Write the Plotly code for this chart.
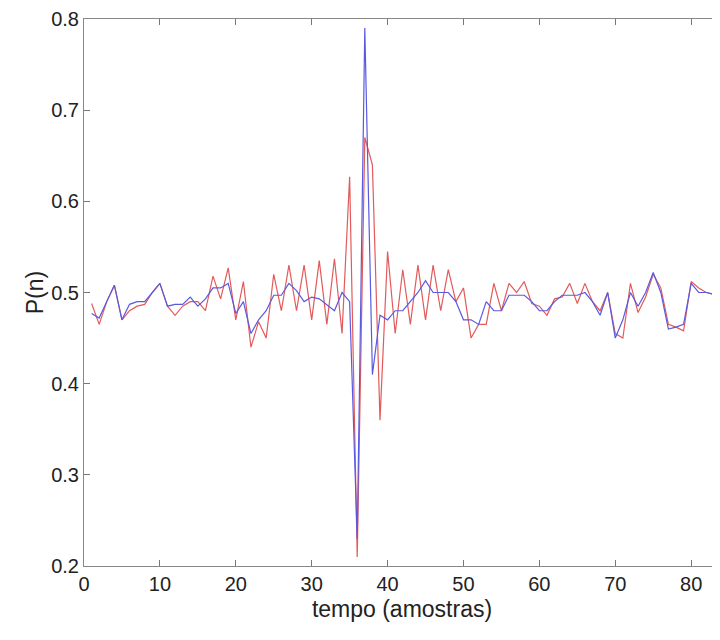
import plotly.graph_objects as go

n = list(range(1, 85))

red = [0.488, 0.465, 0.490, 0.508, 0.470, 0.480, 0.485, 0.487, 0.500, 0.510,
       0.485, 0.475, 0.485, 0.490, 0.490, 0.480, 0.518, 0.493, 0.527, 0.470,
       0.512, 0.440, 0.468, 0.450, 0.520, 0.480, 0.530, 0.480, 0.530, 0.470,
       0.535, 0.465, 0.537, 0.455, 0.627, 0.210, 0.670, 0.640, 0.360, 0.545,
       0.455, 0.525, 0.465, 0.530, 0.470, 0.530, 0.480, 0.525, 0.490, 0.505,
       0.450, 0.465, 0.465, 0.510, 0.480, 0.510, 0.500, 0.512, 0.488, 0.485,
       0.475, 0.493, 0.495, 0.510, 0.488, 0.510, 0.490, 0.480, 0.500, 0.455,
       0.450, 0.510, 0.478, 0.495, 0.520, 0.505, 0.465, 0.462, 0.458, 0.512,
       0.505, 0.500, 0.498, 0.495]

blue = [0.477, 0.472, 0.490, 0.508, 0.470, 0.487, 0.490, 0.490, 0.500, 0.510,
        0.485, 0.487, 0.487, 0.495, 0.485, 0.493, 0.505, 0.505, 0.510, 0.477,
        0.490, 0.455, 0.470, 0.480, 0.497, 0.497, 0.510, 0.502, 0.490, 0.495,
        0.493, 0.487, 0.480, 0.500, 0.490, 0.230, 0.790, 0.410, 0.475, 0.470,
        0.480, 0.480, 0.490, 0.500, 0.513, 0.500, 0.500, 0.500, 0.490, 0.470,
        0.470, 0.465, 0.490, 0.480, 0.480, 0.497, 0.497, 0.497, 0.490, 0.480,
        0.480, 0.490, 0.497, 0.497, 0.497, 0.500, 0.490, 0.475, 0.500, 0.450,
        0.470, 0.500, 0.485, 0.500, 0.522, 0.500, 0.460, 0.462, 0.465, 0.510,
        0.500, 0.500, 0.498, 0.495]

x_ticks = [0, 10, 20, 30, 40, 50, 60, 70, 80]
y_ticks = [0.2, 0.3, 0.4, 0.5, 0.6, 0.7, 0.8]

fig = go.Figure()
fig.add_trace(go.Scatter(x=n, y=red, mode="lines",
                         line=dict(color="#e35a5a", width=1.2), showlegend=False))
fig.add_trace(go.Scatter(x=n, y=blue, mode="lines",
                         line=dict(color="#5a5ae0", width=1.2), showlegend=False))

fam = "Liberation Sans, Arial, sans-serif"
axis_font = dict(family=fam, size=20, color="#222")
title_font = dict(family=fam, size=23, color="#222")
fig.update_layout(
    width=712, height=632,
    margin=dict(l=76, r=0, t=11, b=74),
    paper_bgcolor="white", plot_bgcolor="white",
    font=axis_font,
    xaxis=dict(range=[0, 83.8], tickvals=x_ticks, ticks="inside", ticklen=6,
               tickcolor="#777", showline=True, linecolor="#888", linewidth=1,
               mirror="ticks", showgrid=False, zeroline=False, automargin=False,
               tickfont=axis_font,
               title=dict(text="tempo (amostras)", font=title_font, standoff=6)),
    yaxis=dict(range=[0.2, 0.8], tickvals=y_ticks, ticks="inside", ticklen=6,
               tickcolor="#777", showline=True, linecolor="#888", linewidth=1,
               mirror="ticks", showgrid=False, zeroline=False, automargin=False,
               tickformat=".1f", tickfont=axis_font,
               title=dict(text="P(n)", font=title_font, standoff=1)),
)

fig.write_html("out.html")
